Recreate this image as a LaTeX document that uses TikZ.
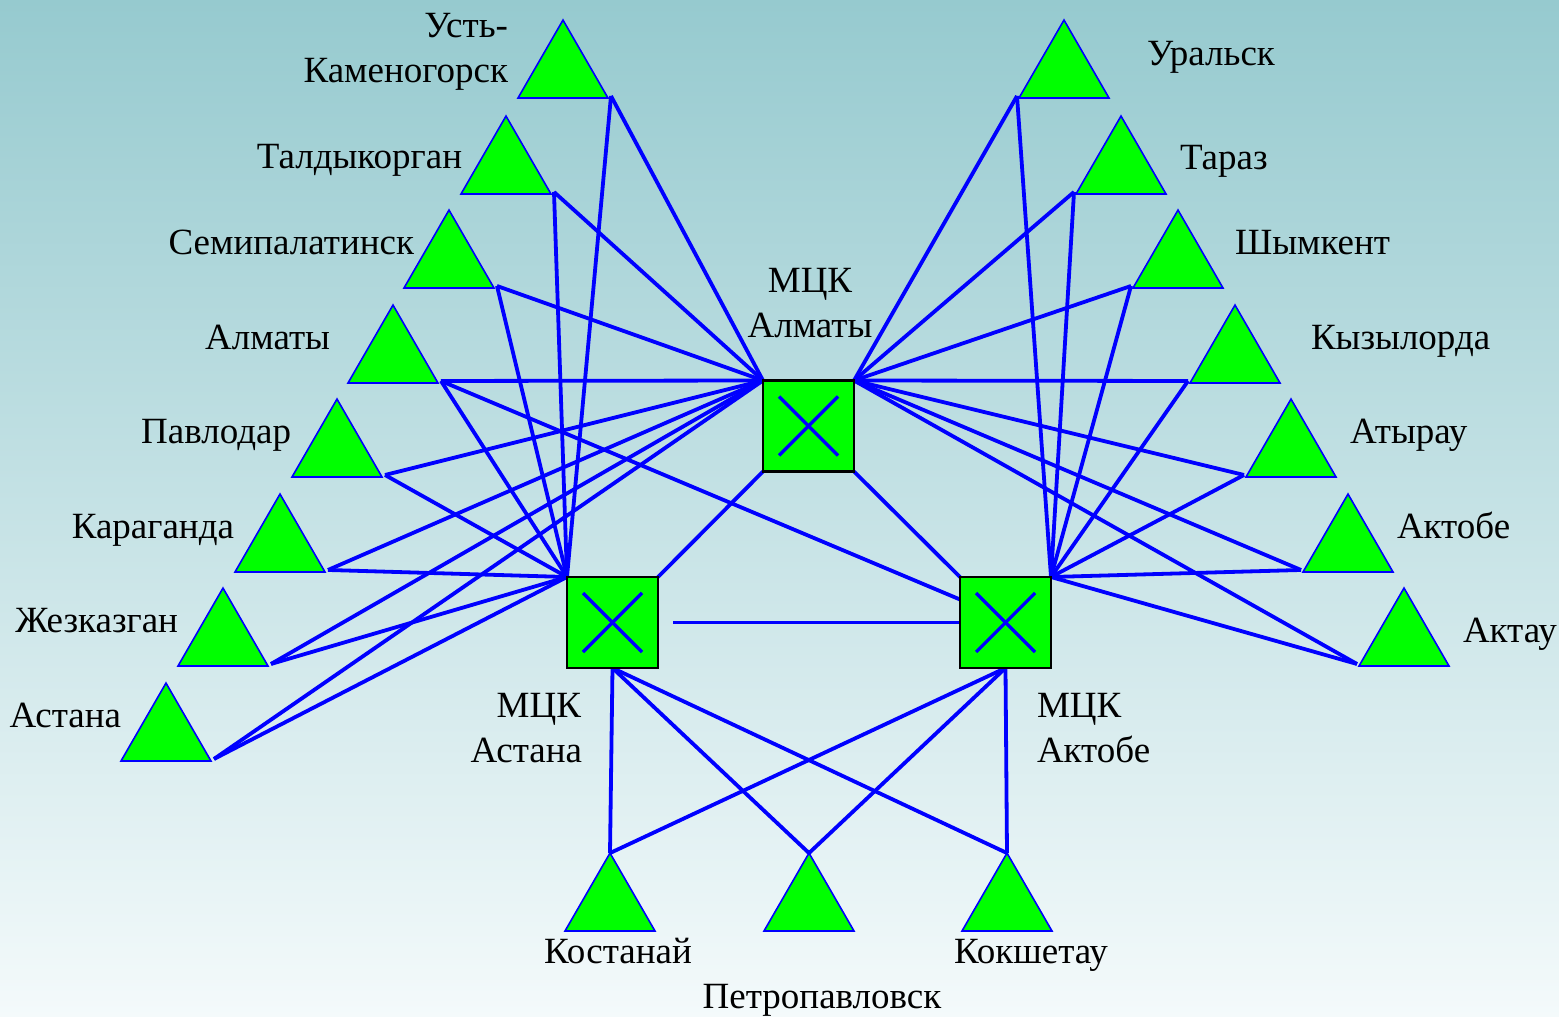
\documentclass[tikz,border=0pt]{standalone}
\usepackage{fontspec}
\setmainfont{Liberation Serif}
\usetikzlibrary{shapes.geometric,calc}

\definecolor{bgtop}{RGB}{150,202,207}
\definecolor{bgbot}{RGB}{244,250,251}
\definecolor{linkblue}{RGB}{0,0,255}
\definecolor{sitegreen}{RGB}{0,255,0}

\pgfdeclarelayer{backdrop}
\pgfdeclarelayer{wires}
\pgfsetlayers{backdrop,wires,main}

\tikzset{
  site/.style={regular polygon, regular polygon sides=3, minimum size=103.9pt,
    inner sep=0pt, outer sep=0pt, fill=sitegreen, draw=linkblue, line width=1.6pt},
  hub/.style={rectangle, minimum size=91pt, inner sep=0pt, outer sep=0pt,
    fill=sitegreen, draw=black, line width=2.6pt,
    path picture={
      \draw[linkblue, line width=3.2pt]
        ($(path picture bounding box.north west)+(16pt,-16pt)$) --
        ($(path picture bounding box.south east)+(-16pt,16pt)$);
      \draw[linkblue, line width=3.2pt]
        ($(path picture bounding box.south west)+(16pt,16pt)$) --
        ($(path picture bounding box.north east)+(-16pt,-16pt)$);
    }},
  link/.style={draw=linkblue, line width=3.8pt},
  lbl/.style={inner sep=0pt, outer sep=0pt, font=\fontsize{37}{44}\selectfont},
}

\begin{document}
\begin{tikzpicture}[x=1pt, y=-1pt]
\useasboundingbox (0,0) rectangle (1559,1017);
\begin{pgfonlayer}{backdrop}
  \shade[top color=bgtop, bottom color=bgbot] (0,0) rectangle (1559,1017);
\end{pgfonlayer}

% switching centres
\node[hub] (hma) at (808.5,426) {};
\node[hub] (has) at (612.5,622.5) {};
\node[hub] (hak) at (1005.5,622.5) {};

% sites, left fan
\node[site] (ust) at (563,72) {};
\node[site] (tal) at (506,168) {};
\node[site] (sem) at (449,262) {};
\node[site] (alm) at (393,357) {};
\node[site] (pav) at (337,451) {};
\node[site] (kar) at (280,546) {};
\node[site] (zhe) at (223,640) {};
\node[site] (ast) at (166,735) {};

% sites, right fan
\node[site] (ura) at (1064,72) {};
\node[site] (tar) at (1121,168) {};
\node[site] (shy) at (1178,262) {};
\node[site] (kyz) at (1235,357) {};
\node[site] (aty) at (1291,451) {};
\node[site] (akt) at (1348,546) {};
\node[site] (aka) at (1404,640) {};

% sites, bottom row
\node[site] (kos) at (610,905) {};
\node[site] (pet) at (809,905) {};
\node[site] (kok) at (1007,905) {};

% labels
\node[lbl, anchor=base east] (ust-a) at (508,37) {Усть-};
\node[lbl, anchor=base east] (ust-b) at (508,82) {Каменогорск};
\node[lbl, anchor=base east] (tal-l) at (462,168) {Талдыкорган};
\node[lbl, anchor=base east] (sem-l) at (414,254) {Семипалатинск};
\node[lbl, anchor=base east] (alm-l) at (330,349) {Алматы};
\node[lbl, anchor=base east] (pav-l) at (291,443) {Павлодар};
\node[lbl, anchor=base east] (kar-l) at (234,538) {Караганда};
\node[lbl, anchor=base east] (zhe-l) at (178,632) {Жезказган};
\node[lbl, anchor=base east] (ast-l) at (121,727) {Астана};

\node[lbl, anchor=base west] (ura-l) at (1147,65) {Уральск};
\node[lbl, anchor=base west] (tar-l) at (1180,169) {Тараз};
\node[lbl, anchor=base west] (shy-l) at (1235,254) {Шымкент};
\node[lbl, anchor=base west] (kyz-l) at (1311,349) {Кызылорда};
\node[lbl, anchor=base west] (aty-l) at (1350,443) {Атырау};
\node[lbl, anchor=base west] (akt-l) at (1397,538) {Актобе};
\node[lbl, anchor=base west] (aka-l) at (1463,642) {Актау};

\node[lbl, anchor=base] (hma-a) at (810,292) {МЦК};
\node[lbl, anchor=base] (hma-b) at (810,337) {Алматы};
\node[lbl, anchor=base east] (has-a) at (581,717) {МЦК};
\node[lbl, anchor=base east] (has-b) at (582,762) {Астана};
\node[lbl, anchor=base west] (hak-a) at (1037,717) {МЦК};
\node[lbl, anchor=base west] (hak-b) at (1037,762) {Актобе};

\node[lbl, anchor=base] (kos-l) at (618,963) {Костанай};
\node[lbl, anchor=base] (kok-l) at (1031,963) {Кокшетау};
\node[lbl, anchor=base] (pet-l) at (822,1008) {Петропавловск};

% links
\begin{pgfonlayer}{wires}
  \foreach \t in {ust,tal,sem,alm,pav,kar,zhe,ast} {
    \draw[link] (hma.north west) -- ([shift={(3pt,2pt)}]\t.corner 3);
    \draw[link] (has.north west) -- ([shift={(3pt,2pt)}]\t.corner 3);
  }
  \foreach \t in {ura,tar,shy,kyz,aty,akt,aka} {
    \draw[link] (hma.north east) -- ([shift={(-2pt,2pt)}]\t.corner 2);
    \draw[link] (hak.north east) -- ([shift={(-2pt,2pt)}]\t.corner 2);
  }
  \foreach \t in {kos,pet,kok} {
    \draw[link] (has.south) -- (\t.corner 1);
    \draw[link] (hak.south) -- (\t.corner 1);
  }
  \draw[link] (hma.south west) -- (has.north east);
  \draw[link] (hma.south east) -- (hak.north west);
  \draw[link] ([xshift=15pt]has.east) -- (hak.west);
  \draw[link] ([shift={(3pt,2pt)}]alm.corner 3) -- ([yshift=23pt]hak.west);
\end{pgfonlayer}
\end{tikzpicture}
\end{document}
